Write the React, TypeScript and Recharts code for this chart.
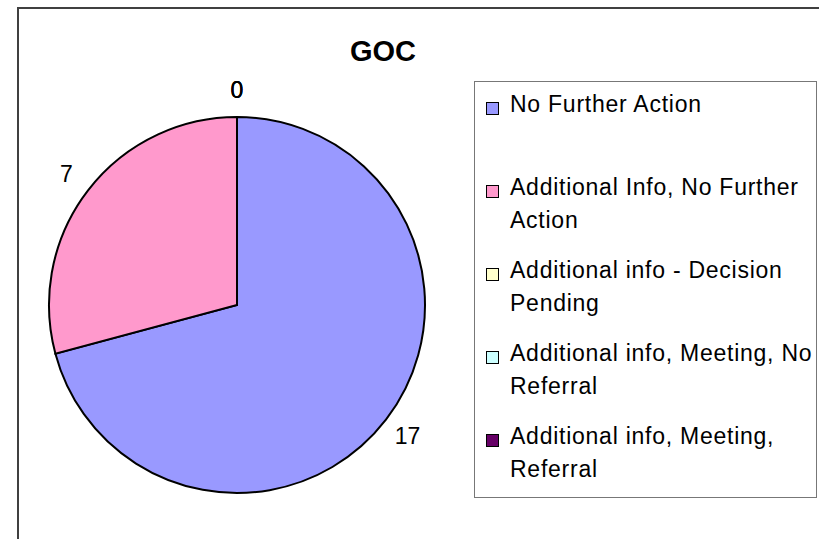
import { PieChart, Pie, Cell, Legend } from 'recharts'

const CATEGORIES = [
  'No Further Action',
  'Additional Info, No Further Action',
  'Additional info - Decision Pending',
  'Additional info, Meeting, No Referral',
  'Additional info, Meeting, Referral',
]
const COUNTS = [17, 7, 0, 0, 0]
const COLORS = ['#9999FF', '#FF99CC', '#FFFFCC', '#CCFFFF', '#660066']

const FONT = '"Liberation Sans", Arial, sans-serif'
const RADIAN = Math.PI / 180

const data = CATEGORIES.map((name, i) => ({ name, value: COUNTS[i] }))

// value labels sit just outside the rim
function renderLabel(props: any) {
  const { cx, cy, midAngle, outerRadius, value } = props
  const r = outerRadius + 27
  const x = cx + r * Math.cos(-midAngle * RADIAN)
  const y = cy + r * Math.sin(-midAngle * RADIAN)
  return (
    <text x={x} y={y} fill="#000" fontSize={23} fontFamily={FONT} textAnchor="middle" dominantBaseline="central">
      {value}
    </text>
  )
}

function LegendBox() {
  return (
    <div style={{ width: 343, height: 417, border: '1px solid #777', boxSizing: 'border-box', background: '#fff', position: 'relative' }}>
      {data.map((d, i) => (
        <div key={d.name} style={{ position: 'absolute', left: 0, top: 6 + i * 83, height: 83, width: '100%' }}>
          <div style={{ position: 'absolute', left: 11, top: 14, width: 11, height: 11, background: COLORS[i], border: '1px solid #000' }} />
          <div style={{ position: 'absolute', left: 35, top: 0, width: 309, fontFamily: FONT, fontSize: 23, letterSpacing: 0.75, lineHeight: '33px', color: '#000' }}>
            {d.name}
          </div>
        </div>
      ))}
    </div>
  )
}

export default function App() {
  return (
    <div style={{ position: 'fixed', left: 0, top: 0, width: 819, height: 539, overflow: 'hidden', background: '#fff' }}>
      <div style={{ position: 'absolute', left: 17, top: 7, width: 900, height: 700, borderLeft: '2px solid #404040', borderTop: '2px solid #404040' }} />
      <div style={{ position: 'absolute', left: 308, top: 35, width: 150, textAlign: 'center', fontFamily: FONT, fontWeight: 'bold', fontSize: 29, color: '#000' }}>
        GOC
      </div>
      <div style={{ position: 'absolute', left: 0, top: 0 }}>
        <PieChart width={819} height={539} margin={{ top: 0, right: 0, bottom: 0, left: 0 }}>
          <Pie
            data={data}
            dataKey="value"
            nameKey="name"
            cx={237}
            cy={305}
            outerRadius={188}
            startAngle={90}
            endAngle={-270}
            stroke="#000"
            strokeWidth={2}
            label={renderLabel}
            labelLine={false}
            isAnimationActive={false}
          >
            {data.map((d, i) => (
              <Cell key={d.name} fill={COLORS[i]} />
            ))}
          </Pie>
          <Legend
            content={() => <LegendBox />}
            wrapperStyle={{ position: 'absolute', left: 474, top: 81, width: 343, height: 417 }}
          />
        </PieChart>
      </div>
    </div>
  )
}
